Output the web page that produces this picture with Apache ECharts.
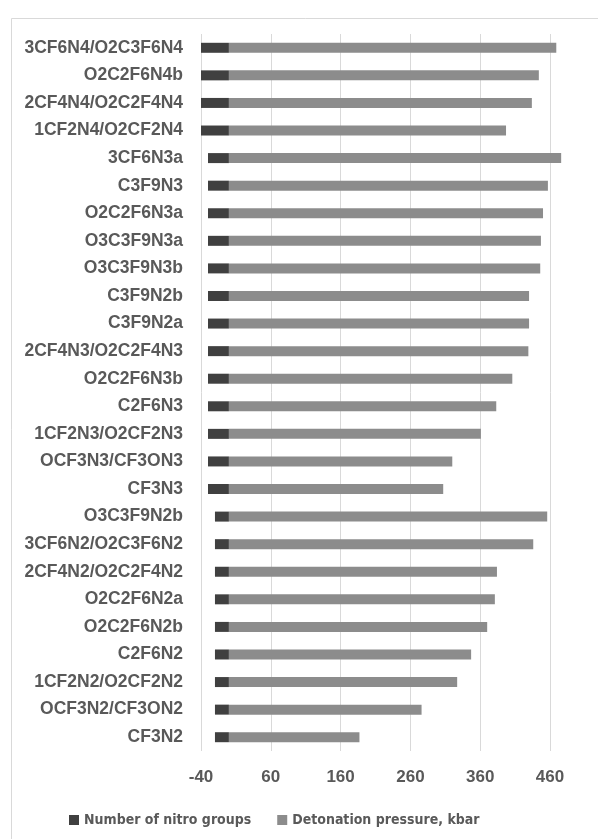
<!DOCTYPE html>
<html>
<head>
<meta charset="utf-8">
<script src="https://cdn.jsdelivr.net/npm/echarts@6/dist/echarts.min.js"></script>
<style>
	html, body { margin: 0; padding: 0; background: #fff; }
	#chart { width: 598px; height: 839px; }
</style>
</head>
<body>
<div id="chart"></div>
<script>
// categories, top to bottom
var compounds = [
	'3CF6N4/O2C3F6N4', 'O2C2F6N4b', '2CF4N4/O2C2F4N4', '1CF2N4/O2CF2N4',
	'3CF6N3a', 'C3F9N3', 'O2C2F6N3a', 'O3C3F9N3a', 'O3C3F9N3b', 'C3F9N2b',
	'C3F9N2a', '2CF4N3/O2C2F4N3', 'O2C2F6N3b', 'C2F6N3', '1CF2N3/O2CF2N3',
	'OCF3N3/CF3ON3', 'CF3N3', 'O3C3F9N2b', '3CF6N2/O2C3F6N2', '2CF4N2/O2C2F4N2',
	'O2C2F6N2a', 'O2C2F6N2b', 'C2F6N2', '1CF2N2/O2CF2N2', 'OCF3N2/CF3ON2', 'CF3N2'
];
// nitro groups, drawn to the left of zero (x10)
var nitroBars = [
	-40, -40, -40, -40,
	-30, -30, -30, -30, -30, -30,
	-30, -30, -30, -30, -30,
	-30, -30, -20, -20, -20,
	-20, -20, -20, -20, -20, -20
];
// detonation pressure, kbar
var pressure = [
	469, 444, 434, 397,
	476, 457, 450, 447, 446, 430,
	430, 429, 406, 383, 361,
	320, 307, 456, 436, 384,
	381, 370, 347, 327, 276, 187
];
var xTicks = { min: -40, max: 460, step: 100 };

var chart = echarts.init(document.getElementById('chart'));

var labelColor = '#595959';

var option = {
	animation: false,
	backgroundColor: '#fff',
	graphic: [{
		type: 'rect',
		left: 9,
		top: 16,
		shape: { width: 640, height: 860 },
		style: { fill: 'none', stroke: '#d9d9d9', lineWidth: 1 },
		silent: true
	}],
	grid: {
		left: 201,
		right: 48,
		top: 34,
		bottom: 88
	},
	legend: {
		left: 64,
		top: 808,
		itemWidth: 10,
		itemHeight: 10,
		itemGap: 26,
		icon: 'rect',
		textStyle: {
			color: labelColor,
			fontFamily: '"DejaVu Sans Condensed", "Liberation Sans", sans-serif',
			fontWeight: 'bold',
			fontSize: 14
		},
		data: ['Number of nitro groups', 'Detonation pressure, kbar']
	},
	xAxis: {
		type: 'value',
		min: xTicks.min,
		max: xTicks.max,
		interval: xTicks.step,
		axisLine: { show: false },
		axisTick: { show: false },
		splitLine: { lineStyle: { color: '#d9d9d9', width: 1 } },
		axisLabel: {
			color: labelColor,
			fontFamily: 'Liberation Sans',
			fontWeight: 'bold',
			fontSize: 17,
			margin: 18
		}
	},
	yAxis: {
		type: 'category',
		inverse: true,
		data: compounds,
		axisLine: { show: false },
		axisTick: { show: false },
		axisLabel: {
			color: labelColor,
			fontFamily: 'Liberation Sans',
			fontWeight: 'bold',
			fontSize: 17.5,
			margin: 18
		}
	},
	series: [{
		name: 'Number of nitro groups',
		type: 'bar',
		data: nitroBars,
		barWidth: 10,
		barGap: '-100%',
		clip: false,
		itemStyle: { color: '#404040' }
	}, {
		name: 'Detonation pressure, kbar',
		type: 'bar',
		data: pressure,
		barWidth: 10,
		barGap: '-100%',
		clip: false,
		itemStyle: { color: '#8c8c8c' }
	}]
};

chart.setOption(option);
</script>
</body>
</html>
